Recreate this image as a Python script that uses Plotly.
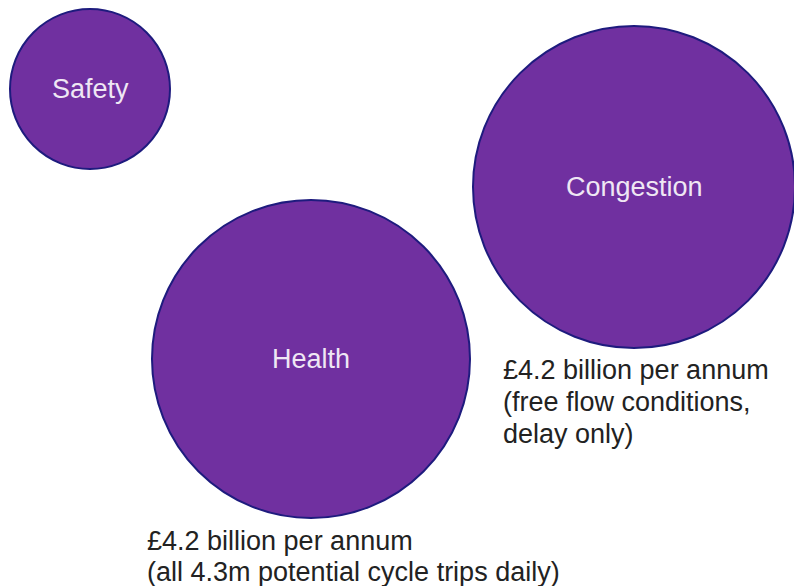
import plotly.graph_objects as go

# Benefit categories and their bubble geometry (axis units = page pixels)
categories = ["Safety", "Health", "Congestion"]
center_x = [90, 311, 634]
center_y = [89, 359, 187]
radius = [80, 159, 161]

# Value notes printed beside two of the bubbles, one entry per text line
health_note = ["£4.2 billion per annum", "(all 4.3m potential cycle trips daily)"]
congestion_note = ["£4.2 billion per annum", "(free flow conditions,", "delay only)"]

# where each note's lines sit (left edge, vertical line centres)
health_note_x = 145
health_note_y = [541, 572]
congestion_note_x = 501
congestion_note_y = [370, 402, 434]

W, H = 794, 586
FILL = "#7030A0"
EDGE = "#1E1B7E"
FONT = "Liberation Sans, Arial, sans-serif"

fig = go.Figure()

shapes = []
annotations = []
for name, cx, cy, r in zip(categories, center_x, center_y, radius):
    shapes.append(dict(
        type="circle", xref="x", yref="y",
        x0=cx - r, x1=cx + r, y0=cy - r, y1=cy + r,
        fillcolor=FILL, line=dict(color=EDGE, width=2), layer="below",
    ))
    annotations.append(dict(
        x=cx, y=cy, xref="x", yref="y", text=name, showarrow=False,
        font=dict(family=FONT, size=27, color="#EFE7F4"),
        xanchor="center", yanchor="middle",
    ))

for lines, nx, ys in [(health_note, health_note_x, health_note_y),
                      (congestion_note, congestion_note_x, congestion_note_y)]:
    for txt, ny in zip(lines, ys):
        annotations.append(dict(
            x=nx, y=ny, xref="x", yref="y", text=txt, showarrow=False,
            font=dict(family=FONT, size=27, color="#222222"),
            xanchor="left", yanchor="middle", align="left",
        ))

# invisible trace so the axes exist
fig.add_trace(go.Scatter(x=[0, W], y=[0, H], mode="markers",
                         marker=dict(opacity=0), hoverinfo="skip", showlegend=False))

fig.update_layout(
    width=W, height=H,
    margin=dict(l=0, r=0, t=0, b=0),
    paper_bgcolor="white", plot_bgcolor="white",
    shapes=shapes, annotations=annotations,
    xaxis=dict(range=[0, W], visible=False, fixedrange=True),
    yaxis=dict(range=[H, 0], visible=False, fixedrange=True),
    showlegend=False,
)

fig.write_html("out.html", config={"displayModeBar": False})
